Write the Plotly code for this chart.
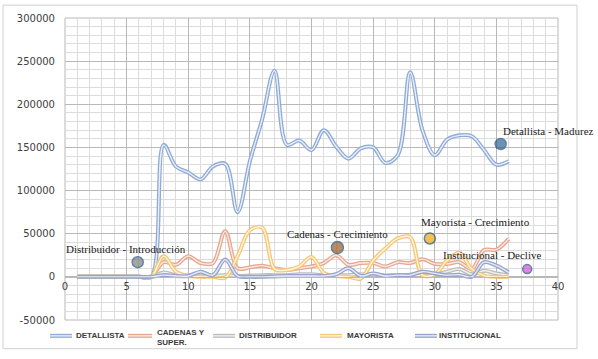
import plotly.graph_objects as go

# ---------------- data ----------------
x_vals = list(range(1, 37))

detallista = [0, 0, 0, 0, 0, 0, 0,
              153000, 128000, 121000, 113000, 128000, 131000, 75000, 134000, 183000,
              239000, 153000, 158000, 147000, 170000, 151000, 137000, 149000, 150000,
              132000, 141000, 237000, 170000, 141000, 159000, 164000, 163000, 147000,
              130000, 134000]
cadenas = [0, 0, 0, 0, 0, 0, 0,
           17000, 14000, 24000, 16000, 16000, 53000, 10000, 11000, 13000,
           10000, 8000, 10000, 12000, 16000, 25000, 14000, 16000, 16000,
           12000, 17000, 16000, 20500, 15000, 15000, 17000, 9000, 31000,
           31500, 44000]
distribuidor = [0, 0, 0, 0, 0, 0, 0,
                5000, 2000, 1500, 1500, 1000, 2000, 1000, 1500, 2000,
                2000, 2000, 3000, 3000, 2000, 2500, 2000, 3000, 2000,
                1500, 2000, 2500, 5000, 3000, 6000, 9000, 3000, 7000,
                4000, 2000]
mayorista = [0, 0, 0, 0, 0, 0, 0,
             24000, 6000, 1000, 0, 0, -1000, 24000, 54000, 57000,
             9000, 8000, 12000, 23000, 4500, 1000, 0, -2000, 19000,
             33000, 44500, 46000, 2000, 3000, 19000, 28000, 9000, 1500,
             0, 0]
institucional = [0, 0, 0, 0, 0, 0, 0,
                 2000, 1000, 1000, 6000, 2000, 20000, 1000, 0, 0,
                 500, 1000, 1000, 1000, 1000, 3000, 10000, 1000, 4000,
                 1000, 2000, 2000, 6000, 4000, 2000, 2500, 0, 17000,
                 13000, 5000]

series_names = ["DETALLISTA", "CADENAS Y<br>SUPER.", "DISTRIBUIDOR", "MAYORISTA", "INSTITUCIONAL"]
series_values = [detallista, cadenas, distribuidor, mayorista, institucional]

stage_names = ["Distribuidor - Introducción", "Cadenas - Crecimiento",
               "Mayorista - Crecimiento", "Institucional - Declive", "Detallista - Madurez"]
stage_x = [5.9, 22.1, 29.6, 37.5, 35.35]
stage_y = [17000, 34000, 44500, 9000, 154000]

x_ticks = [0, 5, 10, 15, 20, 25, 30, 35, 40]
y_ticks = [-50000, 0, 50000, 100000, 150000, 200000, 250000, 300000]
y_tick_labels = ["-50000", "0", "50000", "100000", "150000", "200000", "250000", "300000"]

# ---------------- styles ----------------
outer_colors = ["#8eaad8", "#e6a68f", "#bcbcbc", "#f5c774", "#96a4ce"]
inner_colors = ["#e9eff8", "#fbebe4", "#f0f0f0", "#fff4de", "#e8ebf5"]
stage_colors = ["#7f7f7f", "#9c5b1e", "#f5a500", "#d64ed6", "#2f6496"]
stage_sizes = [11, 12, 11, 9, 11]
label_xshift = [-12, 0, 46, -35, 48]
label_yshift = [13, 14, 16, 14, 13]

# figure geometry (pixels) used to place the hand-drawn legend below the plot
W, H = 598, 359
M_L, M_R, M_T, M_B = 65, 40, 15, 39
PW, PH = W - M_L - M_R, H - M_T - M_B
legend_line_px = [(50, 72), (128, 152), (213, 235), (320, 342), (415, 437)]
legend_text_px = [74, 155, 237, 345, 437]
legend_y_px = 336


def px_to_paper_x(px):
    return (px - M_L) / PW


def px_to_paper_y(py):
    return (H - M_B - py) / PH


fig = go.Figure()
for name, vals, oc, ic in zip(series_names, series_values, outer_colors, inner_colors):
    fig.add_trace(go.Scatter(
        x=x_vals, y=vals, mode="lines", name=name, showlegend=False,
        line=dict(color=oc, width=4, shape="spline", smoothing=1.0),
        hoverinfo="skip"))
    fig.add_trace(go.Scatter(
        x=x_vals, y=vals, mode="lines", showlegend=False,
        line=dict(color=ic, width=1.4, shape="spline", smoothing=1.0),
        hoverinfo="skip"))

fig.add_trace(go.Scatter(
    x=stage_x, y=stage_y, mode="markers", showlegend=False, hoverinfo="skip",
    marker=dict(color=stage_colors, size=stage_sizes,
                line=dict(color="#1f4e79", width=1.5))))

for name, sx, sy, dx, dy in zip(stage_names, stage_x, stage_y, label_xshift, label_yshift):
    fig.add_annotation(x=sx, y=sy, xref="x", yref="y", text=name, showarrow=False,
                       xshift=dx, yshift=dy,
                       font=dict(family="Liberation Serif", size=11, color="#1a1a1a"))

shapes = [
    dict(type="rect", xref="paper", yref="paper", x0=0, y0=0, x1=1, y1=1,
         line=dict(color="#b8b8b8", width=1), layer="below"),
    dict(type="rect", xref="paper", yref="paper",
         x0=px_to_paper_x(3), y0=px_to_paper_y(349),
         x1=px_to_paper_x(577), y1=px_to_paper_y(2),
         line=dict(color="#d0d0d0", width=1), layer="below"),
]

# legend (drawn by hand so that it does not push the plot margins)
ly = px_to_paper_y(legend_y_px)
for name, oc, ic, (a, b), tx in zip(series_names, outer_colors, inner_colors,
                                     legend_line_px, legend_text_px):
    shapes.append(dict(type="line", xref="paper", yref="paper",
                       x0=px_to_paper_x(a), x1=px_to_paper_x(b), y0=ly, y1=ly,
                       line=dict(color=oc, width=4)))
    shapes.append(dict(type="line", xref="paper", yref="paper",
                       x0=px_to_paper_x(a), x1=px_to_paper_x(b), y0=ly, y1=ly,
                       line=dict(color=ic, width=1.4)))
    ty = ly if "<br>" not in name else px_to_paper_y(legend_y_px + 2)
    fig.add_annotation(x=px_to_paper_x(tx), y=ty, xref="paper", yref="paper",
                       text=name, showarrow=False, xanchor="left", yanchor="middle",
                       align="left",
                       font=dict(family="Liberation Sans Narrow, Liberation Sans",
                                 size=8, color="#3a3a3a", weight="bold"))

tick_font = dict(family="DejaVu Sans", size=10, color="#404040")

fig.update_layout(
    width=W, height=H,
    margin=dict(l=M_L, r=M_R, t=M_T, b=M_B),
    paper_bgcolor="white", plot_bgcolor="white",
    showlegend=False,
    xaxis=dict(range=[0, 40], tickmode="array", tickvals=x_ticks,
               showgrid=True, gridcolor="#b8b8b8", gridwidth=1,
               minor=dict(dtick=1, tick0=0, showgrid=True, gridcolor="#dcdcdc", gridwidth=1),
               anchor="free", position=50000 / 350000,
               showline=True, linecolor="#b8b8b8", linewidth=1,
               zeroline=False, ticks="", tickfont=tick_font, fixedrange=True),
    yaxis=dict(range=[-50000, 300000], tickmode="array", tickvals=y_ticks,
               ticktext=y_tick_labels,
               showgrid=True, gridcolor="#b8b8b8", gridwidth=1,
               minor=dict(dtick=10000, tick0=0, showgrid=True, gridcolor="#dcdcdc", gridwidth=1),
               zeroline=False, ticks="", tickfont=tick_font, ticklabelstandoff=9,
               fixedrange=True),
    shapes=shapes,
)

fig.write_html("out.html", config={"displayModeBar": False},
               post_script="document.body.style.margin='0';document.body.style.padding='0';")
